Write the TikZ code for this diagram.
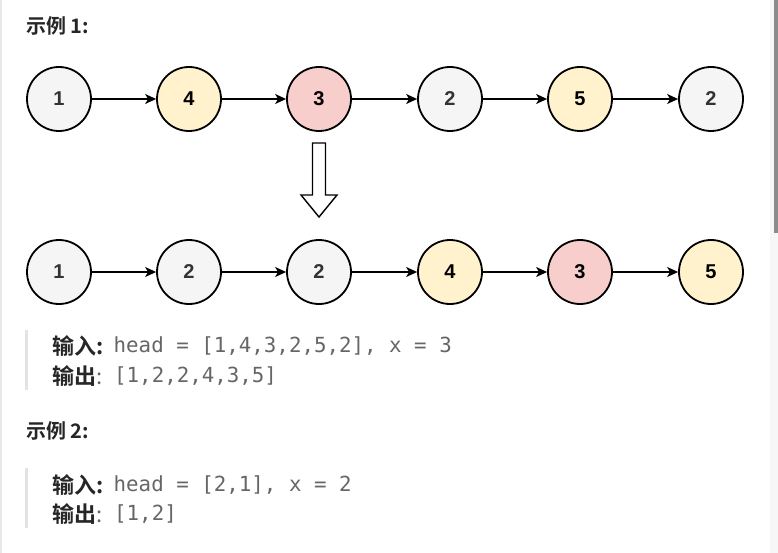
\documentclass[tikz,border=0pt]{standalone}
\usepackage{fontspec}
\setmainfont{Liberation Sans}
\newfontfamily\cjkb[BoldFont={Noto Sans CJK SC Bold}]{Noto Sans CJK SC}
\newfontfamily\monof{DejaVu Sans Mono}
\usetikzlibrary{arrows.meta}
\definecolor{nodegray}{HTML}{F5F5F5}
\definecolor{nodeyel}{HTML}{FFF2CC}
\definecolor{nodered}{HTML}{F8CECC}
\definecolor{codegray}{HTML}{666666}
\definecolor{labeldark}{HTML}{262626}
\definecolor{barcol}{HTML}{E3E3E3}
\tikzset{
  lnode/.style={circle, draw=black, line width=1.8pt, minimum size=64pt, inner sep=0pt,
    font=\fontsize{20}{20}\selectfont\bfseries},
  gnode/.style={lnode, fill=nodegray, text=black!80},
  ynode/.style={lnode, fill=nodeyel, text=black},
  rnode/.style={lnode, fill=nodered, text=black},
  link/.style={line width=1.3pt, -{Stealth[length=11pt,width=10pt,inset=3pt]}},
  heading/.style={anchor=west, inner sep=0pt, text=labeldark, font=\cjkb\fontsize{20}{20}\selectfont\bfseries},
  lbl/.style={anchor=west, inner sep=0pt, text=labeldark, font=\cjkb\fontsize{22}{22}\selectfont\bfseries},
  code/.style={anchor=west, inner sep=0pt, text=codegray, font=\monof\fontsize{20.8}{21}\selectfont},
  qbar/.style={fill=barcol, draw=none}
}
\begin{document}
\begin{tikzpicture}[x=1pt,y=-1pt]
\useasboundingbox (0,0) rectangle (778,553);
\fill[white] (0,0) rectangle (778,553);
% page edges
\fill[black!9] (0,0) rectangle (2,553);
\fill[black!3] (770,0) rectangle (778,553);
\fill[black!45] (774,0) rectangle (778,233);

\node[heading] (h1) at (26,26) {示例 1:};

% row 1
\node[gnode] (a1) at (59,99) {1};
\node[ynode] (a2) at (189,99) {4};
\node[rnode] (a3) at (319,99) {3};
\node[gnode] (a4) at (450,99) {2};
\node[ynode] (a5) at (580,99) {5};
\node[gnode] (a6) at (711,99) {2};
\foreach \i/\j in {a1/a2,a2/a3,a3/a4,a4/a5,a5/a6} \draw[link] (\i) -- (\j);

% block arrow
\draw[line width=1.4pt, fill=white, line join=miter]
  (312.5,143) -- (325.5,143) -- (325.5,195) -- (337,195) -- (319,217) -- (301,195) -- (312.5,195) -- cycle;

% row 2
\node[gnode] (b1) at (59,272) {1};
\node[gnode] (b2) at (189,272) {2};
\node[gnode] (b3) at (319,272) {2};
\node[ynode] (b4) at (450,272) {4};
\node[rnode] (b5) at (580,272) {3};
\node[ynode] (b6) at (711,272) {5};
\foreach \i/\j in {b1/b2,b2/b3,b3/b4,b4/b5,b5/b6} \draw[link] (\i) -- (\j);

% example 1 text
\fill[qbar] (25,330) rectangle (28,390);
\node[lbl] (in1) at (52,346) {输入:};
\node[code] (in1v) at (113.5,346) {head = [1,4,3,2,5,2], x = 3};
\node[lbl] (out1) at (52,376) {输出\textcolor{codegray}{\mdseries :}};
\node[code] (out1v) at (114,376) {[1,2,2,4,3,5]};

\node[heading] (h2) at (26,431) {示例 2:};

\fill[qbar] (25,468) rectangle (28,528);
\node[lbl] (in2) at (52,485) {输入:};
\node[code] (in2v) at (113.5,485) {head = [2,1], x = 2};
\node[lbl] (out2) at (52,514) {输出\textcolor{codegray}{\mdseries :}};
\node[code] (out2v) at (114,514) {[1,2]};
\end{tikzpicture}
\end{document}
